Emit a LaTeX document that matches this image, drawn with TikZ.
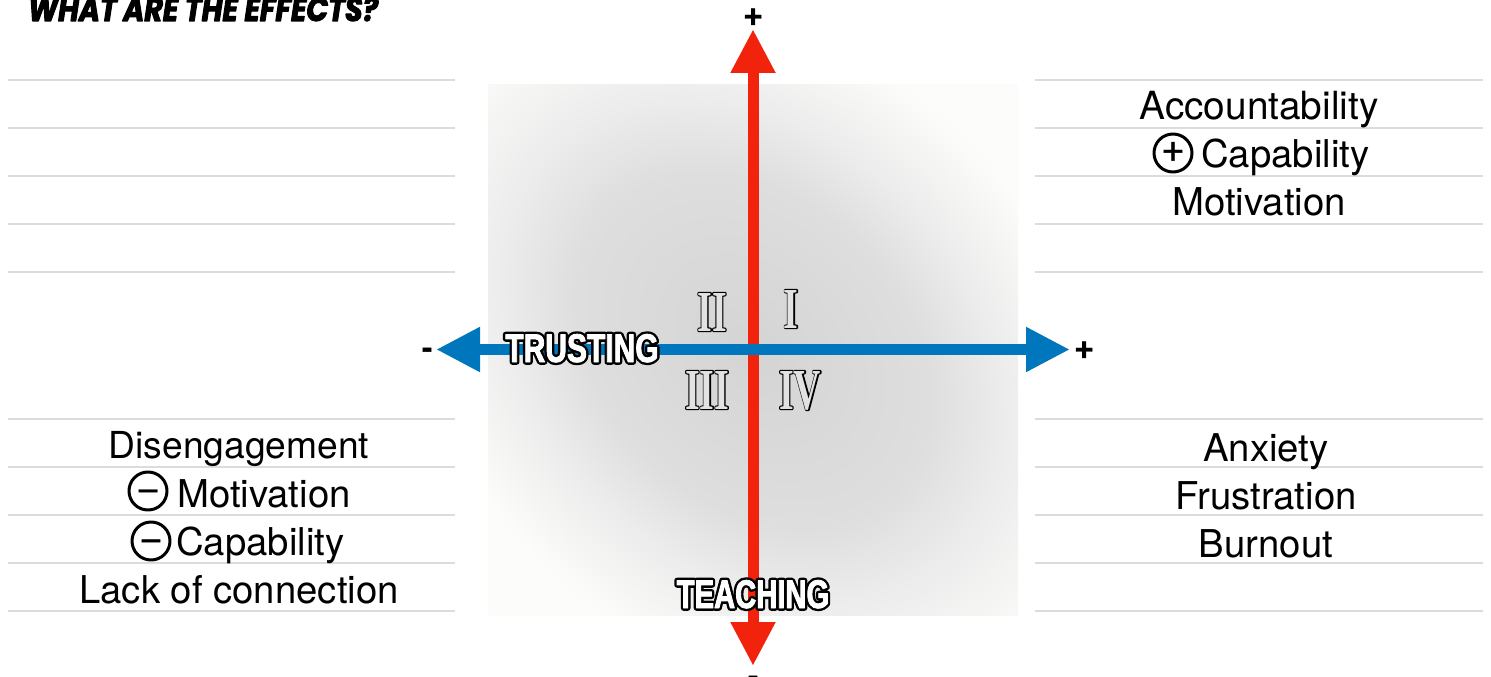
\documentclass[tikz,border=0pt]{standalone}
\usepackage{fontspec}
\usetikzlibrary{arrows.meta}
\setmainfont{TeX Gyre Heros}
\newfontfamily\titlefont[BoldItalicFont=* Bold Italic,BoldItalicFeatures={FakeStretch=.85,FakeBold=3}]{Poppins}
\newfontfamily\symfont[FakeBold=1.2]{Liberation Sans}
\newfontfamily\signfont[FakeBold=1.5]{Liberation Sans Bold}
\newfontfamily\impactblack[FakeStretch=.75,FakeBold=14]{Liberation Sans Bold}
\newfontfamily\impactwhite[FakeStretch=.75,FakeBold=2]{Liberation Sans Bold}
\newfontfamily\teachblack[FakeStretch=.73,FakeBold=14]{Liberation Sans Bold}
\newfontfamily\teachwhite[FakeStretch=.73,FakeBold=2]{Liberation Sans Bold}
\newfontfamily\romanblack[FakeStretch=.65,FakeBold=4]{Liberation Serif Bold}
\newfontfamily\romanfill[FakeStretch=.65]{Liberation Serif Bold}
\definecolor{shadea}{HTML}{D4D4D4}
\definecolor{shadeb}{HTML}{DEDEDE}
\definecolor{shadec}{HTML}{ECECEC}
\definecolor{shaded}{HTML}{FCFCFA}
\pgfdeclareradialshading{quadshade}{\pgfpoint{0bp}{0bp}}{
  color(0bp)=(shadea);
  color(12.5bp)=(shadeb);
  color(17.7bp)=(shadec);
  color(25bp)=(shaded);
  color(50bp)=(shaded)}
\definecolor{rule}{HTML}{DCDCDC}
\definecolor{axisred}{HTML}{F2230C}
\definecolor{axisblue}{HTML}{0076BD}
\definecolor{numinner}{HTML}{E2E2E2}
\tikzset{
  x=1pt,y=-1pt,
  rulestyle/.style={draw=rule,line width=2.4pt},
  effect/.style={font=\fontsize{38.3}{40}\selectfont,anchor=base,inner sep=0pt,text=black},
  signcircle/.style={circle,draw=black,line width=3pt,minimum size=38pt,inner sep=0pt,font=\symfont\fontsize{38}{38}\selectfont},
  minustext/.style={text height=25pt,text depth=0pt},
  axissign/.style={font=\signfont\fontsize{32}{32}\selectfont,inner sep=0pt,text=black},
  axisline/.style={line width=11pt,{Triangle[length=44pt,width=42pt]}-{Triangle[length=44pt,width=42pt]}},
  bandblack/.style={font=\impactblack\fontsize{40}{40}\selectfont,inner sep=0pt,anchor=base,text=black},
  bandwhite/.style={font=\impactwhite\fontsize{40}{40}\selectfont,inner sep=0pt,anchor=base,text=white},
  teachb/.style={font=\teachblack\fontsize{40}{40}\selectfont,inner sep=0pt,anchor=base,text=black},
  teachw/.style={font=\teachwhite\fontsize{40}{40}\selectfont,inner sep=0pt,anchor=base,text=white},
  numblack/.style={font=\romanblack\fontsize{58}{58}\selectfont,inner sep=0pt,anchor=base,text=black},
  numfill/.style={font=\romanfill\fontsize{58}{58}\selectfont,inner sep=0pt,anchor=base,text=numinner},
}
\begin{document}
\begin{tikzpicture}[line join=round]
\useasboundingbox (0,0) rectangle (1491,677);
\clip (0,0) rectangle (1491,677);
\begin{scope}
\clip (488,84) rectangle (1018,615);
\begin{pgfscope}
\pgftransformshift{\pgfpoint{753pt}{-350pt}}
\pgftransformrotate{-45}
\pgftransformxscale{15.94}
\pgftransformyscale{11.96}
\pgflowlevelsynccm
\pgfuseshading{quadshade}
\end{pgfscope}
\end{scope}
% rules
\foreach \yy in {80,128,176,224,272,419,467,515,563,611}{
  \coordinate (ll\yy) at (8,\yy); \coordinate (lr\yy) at (455,\yy);
  \coordinate (rl\yy) at (1035,\yy); \coordinate (rr\yy) at (1483,\yy);
  \draw[rulestyle] (ll\yy) -- (lr\yy);
  \draw[rulestyle] (rl\yy) -- (rr\yy);
}
% axes
\coordinate (vtop) at (753,29);
\coordinate (vbot) at (753,666);
\coordinate (hleft) at (436,349.5);
\coordinate (hright) at (1070,349.5);
\draw[axisline,draw=axisred,fill=axisred,line join=miter] (vbot) -- (vtop);
\draw[axisline,draw=axisblue,fill=axisblue,line join=miter] (hleft) -- (hright);
\node[axissign] (ptop) at (753,18) {+};
\node[axissign] (pright) at (1084,351) {+};
\node[axissign] (mleft) at (427,353) {-};
\node[axissign] (mbot) at (753,681) {-};
% title
\node[font=\titlefont\bfseries\itshape\fontsize{33.5}{34}\selectfont,anchor=base west,inner sep=0pt] (title) at (28,21) {WHAT ARE THE EFFECTS?};
% band labels
\node[bandblack] (tb) at (582,362) {TRUSTING};
\node[bandwhite] (tw) at (582,362) {TRUSTING};
\node[teachb] (hb) at (753,608) {TEACHING};
\node[teachw] (hw) at (753,608) {TEACHING};
% numerals
\foreach \nm/\tx/\xx/\yy in {a/I/791/328,b/II/712/331,c/III/707/409,d/IV/800/409}{
  \node[numblack] (n\nm) at (\xx,\yy) {\tx};
  \node[numfill] (f\nm) at (\xx,\yy) {\tx};
}
% right top
\node[effect,font=\fontsize{38.8}{40}\selectfont] (acc) at (1259,119) {Accountability};
\node[effect,anchor=base west] (capr) at (1201,167) {Capability};
\node[signcircle] (plus) at (1173,153) {+};
\node[effect] (motr) at (1259,215) {Motivation};
% right bottom
\node[effect] (anx) at (1266,461) {Anxiety};
\node[effect] (fru) at (1266,509) {Frustration};
\node[effect] (bur) at (1266,557) {Burnout};
% left bottom
\node[effect,font=\fontsize{37.2}{40}\selectfont] (dis) at (239,458) {Disengagement};
\node[effect,anchor=base west] (motl) at (177,507) {Motivation};
\node[signcircle,minustext] (m1) at (148,491) {−};
\node[effect,anchor=base west] (capl) at (176,555) {Capability};
\node[signcircle,minustext] (m2) at (151,541) {−};
\node[effect] (lack) at (239,603) {Lack of connection};
\end{tikzpicture}
\end{document}
